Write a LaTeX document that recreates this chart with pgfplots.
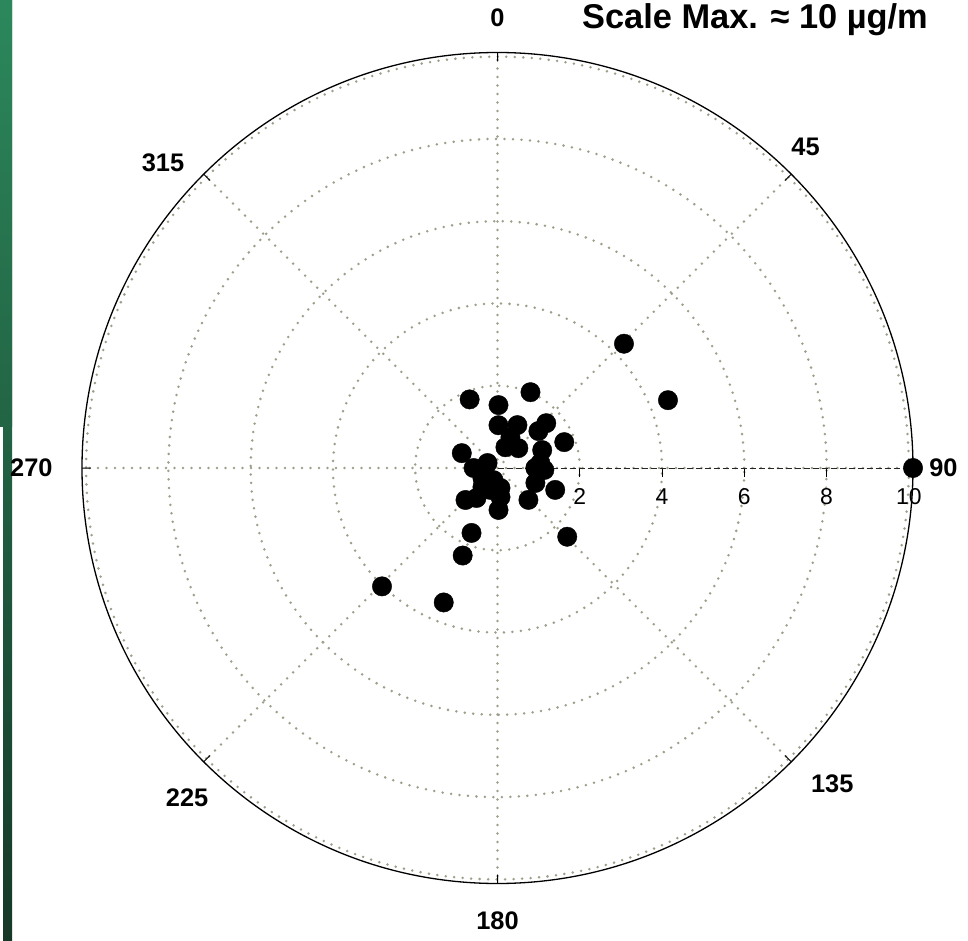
\documentclass[border=0pt]{standalone}
\usepackage{pgfplots}
\pgfplotsset{compat=1.18}
\usepgfplotslibrary{polar}
\usepackage{pgfplotstable}
\usepackage{fontspec}
\setmainfont{Liberation Sans}
\definecolor{gridc}{RGB}{158,158,138}
\definecolor{stripTop}{RGB}{44,136,92}
\definecolor{stripMid}{RGB}{34,100,68}
\definecolor{stripBot}{RGB}{22,56,40}

% math angle (deg, counter-clockwise from east), radius
\pgfplotstableread{
theta r
66.5 2.01
112.1 1.80
89.1 1.53
88.7 1.04
65.1 1.15
42.1 1.34
42.6 1.61
21.2 1.74
157.4 0.94
69.1 0.54
43.6 0.70
21.8 1.17
153.4 0.27
180 0.58
0 0.92
357.6 1.14
231.7 0.59
251.6 0.31
275.9 0.71
271.4 1.02
225 1.10
338.5 0.99
314.1 1.08
339.2 1.50
315.4 2.38
248.2 1.70
248.3 2.29
248.2 3.52
225.7 4.02
44.5 4.31
21.7 4.46
0 10.1
213.7 0.44
252.3 0.56
235 0.89
67.2 0.81
6.6 1.05
278.5 0.49
}\conc

\begin{document}
\begin{tikzpicture}
\useasboundingbox (0bp,0bp) rectangle (968bp,941bp);
\shade[top color=stripTop, middle color=stripMid, bottom color=stripBot]
  (3bp,0bp) rectangle (12bp,941bp);
\shade[top color=stripTop, bottom color=stripMid]
  (0bp,514bp) rectangle (12bp,941bp);
\begin{polaraxis}[
  at={(497.5bp,473bp)}, anchor=center,
  scale only axis, width=831bp, height=831bp,
  ymin=0, ymax=10.1,
  clip=false,
  xtick={0,45,...,315}, xticklabels={},
  ytick={2,4,6,8,10},
  yticklabel style={font=\fontsize{23}{23}\selectfont, anchor=north, yshift=-26bp},
  /pgf/number format/assume math mode=true,
  grid=major,
  major grid style={color=gridc, line width=2.8bp, dash pattern=on 0bp off 8.5bp, line cap=round},
  x axis line style={black, line width=1.3bp},
  y axis line style={draw=none},
  tick style={black, line width=1bp},
  major tick length=9bp,
  tick align=outside,
]
\addplot [black!85, line width=1bp, dash pattern=on 6bp off 3bp] coordinates {(0,0) (0,10.1)};
\addplot [only marks, mark=*, mark size=9.7bp, black] table [x=theta, y=r] {\conc};
\node[font=\bfseries\fontsize{25.5}{25.5}\selectfont] at (axis cs:90,10.95) {0};
\node[font=\bfseries\fontsize{25.5}{25.5}\selectfont] at (axis cs:46.2,10.82) {45};
\node[font=\bfseries\fontsize{25.5}{25.5}\selectfont] at (axis cs:0,10.84) {90};
\node[font=\bfseries\fontsize{25.5}{25.5}\selectfont] at (axis cs:316.7,11.18) {135};
\node[font=\bfseries\fontsize{25.5}{25.5}\selectfont] at (axis cs:270,11.0) {180};
\node[font=\bfseries\fontsize{25.5}{25.5}\selectfont] at (axis cs:226.7,11.0) {225};
\node[font=\bfseries\fontsize{25.5}{25.5}\selectfont] at (axis cs:180,11.33) {270};
\node[font=\bfseries\fontsize{25.5}{25.5}\selectfont] at (axis cs:137.6,11.01) {315};
\end{polaraxis}
\node[anchor=base west, inner sep=0pt, font=\bfseries\fontsize{34.5}{34.5}\selectfont]
  at (582bp,912bp) {Scale Max. ≈ 10 µg/m};
\end{tikzpicture}
\end{document}
